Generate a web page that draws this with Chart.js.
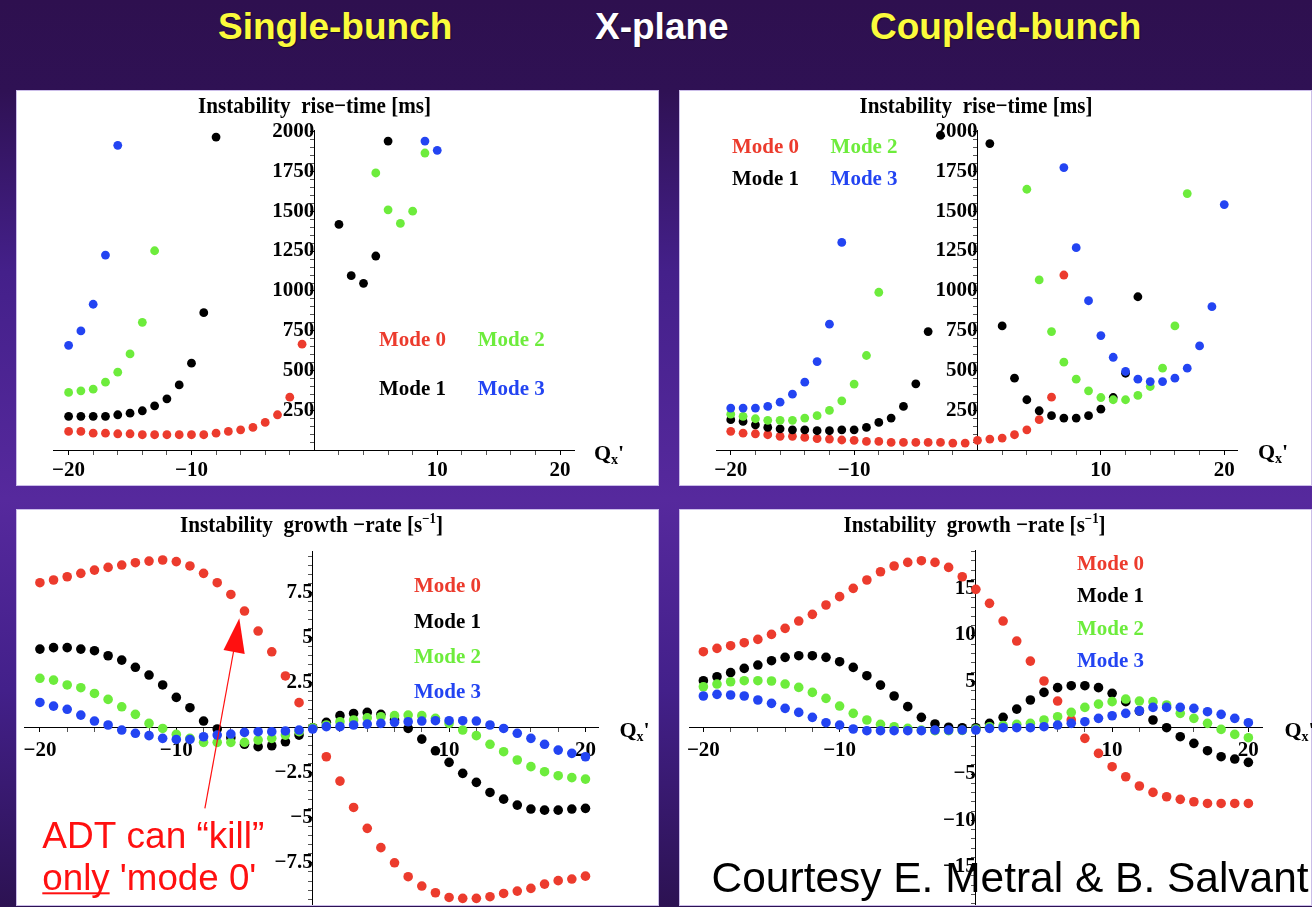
<!DOCTYPE html>
<html>
<head>
<meta charset="utf-8">
<title>X-plane instabilities</title>
<script src="https://cdn.jsdelivr.net/npm/chart.js@4.4.0/dist/chart.umd.min.js"></script>
<style>
  html, body { margin: 0; padding: 0; }
  body {
    width: 1312px; height: 907px; overflow: hidden; position: relative;
    background: linear-gradient(to bottom, #2e104f 0%, #2f1154 10%, #44208a 30%, #56299d 55%, #43208a 76%, #2c1252 100%);
  }
  .head {
    position: absolute; top: 8px; white-space: nowrap;
    font: bold 37px "Liberation Sans", Arial, sans-serif; line-height: 37px;
    text-shadow: 1px 1px 1px rgba(0,0,0,0.45);
  }
  .panel { position: absolute; background: #fff; box-sizing: border-box; border: 1px solid #cbbde9; }
  canvas.plot { position: absolute; }
</style>
</head>
<body>
<div class="head" style="left:218px;color:#fbfb3c">Single-bunch</div>
<div class="head" style="left:595px;color:#ffffff">X-plane</div>
<div class="head" style="left:870px;color:#fbfb3c">Coupled-bunch</div>

<div class="panel" style="left:16px;top:90px;width:643px;height:396px"></div>
<div class="panel" style="left:679px;top:90px;width:633px;height:396px"></div>
<div class="panel" style="left:16px;top:509px;width:643px;height:397px"></div>
<div class="panel" style="left:679px;top:509px;width:633px;height:397px"></div>

<canvas class="plot" id="sbRise" width="643" height="396" style="left:16px;top:90px"></canvas>
<canvas class="plot" id="cbRise" width="633" height="396" style="left:679px;top:90px"></canvas>
<canvas class="plot" id="sbGrow" width="643" height="396" style="left:16px;top:509px"></canvas>
<canvas class="plot" id="cbGrow" width="633" height="396" style="left:679px;top:509px"></canvas>

<script>
// Chromaticity values Q'x shared by every series
const qx = [-20,-19,-18,-17,-16,-15,-14,-13,-12,-11,-10,-9,-8,-7,-6,-5,-4,-3,-2,-1,0,
            1,2,3,4,5,6,7,8,9,10,11,12,13,14,15,16,17,18,19,20];

// Single-bunch instability rise-time [ms] (null = stable / off scale)
const sbRiseMode0 = [121,121,110,110,106,106,100,100,100,100,100,100,110,121,131,146,177,225,335,667,
                     null,null,null,null,null,null,null,null,null,null,null,null,null,null,null,null,null,null,null,null,null];
const sbRiseMode1 = [215,215,215,215,225,235,250,281,325,412,548,864,1964,
                     null,null,null,null,null,null,null,null,null,
                     1417,1096,1048,1219,1939,
                     null,null,null,null,null,null,null,null,null,null,null,null,null,null];
const sbRiseMode2 = [365,375,385,429,492,606,804,1252,
                     null,null,null,null,null,null,null,null,null,null,null,null,null,null,null,null,null,
                     1739,1508,1423,1500,1864,
                     null,null,null,null,null,null,null,null,null,null,null];
const sbRiseMode3 = [660,750,917,1225,1912,
                     null,null,null,null,null,null,null,null,null,null,null,null,null,null,null,null,null,null,null,null,null,null,null,null,
                     1939,1881,
                     null,null,null,null,null,null,null,null,null,null];

// Coupled-bunch instability rise-time [ms]
const cbRiseMode0 = [121,110,106,100,90,90,83,75,73,67,65,58,58,52,52,52,52,52,48,48,65,73,79,100,131,194,335,1100,
                     null,null,null,null,null,null,null,null,null,null,null,null,null];
const cbRiseMode1 = [194,183,162,146,137,131,131,125,125,131,131,146,177,204,277,419,746,1975,
                     null,null,null,
                     1923,781,454,319,250,219,204,204,219,260,333,485,964,
                     null,null,null,null,null,null,null];
const cbRiseMode2 = [229,215,200,190,190,190,204,219,252,312,417,596,992,
                     null,null,null,null,null,null,null,null,null,null,null,
                     1637,1069,746,554,448,375,333,319,319,346,402,517,781,1610,
                     null,null,null];
const cbRiseMode3 = [267,267,267,277,304,354,429,558,792,1304,
                     null,null,null,null,null,null,null,null,null,null,null,null,null,null,null,null,null,
                     1773,1271,939,721,585,496,448,433,433,454,517,656,902,1541];

// Single-bunch instability growth-rate [1/s]
const sbGrowMode0 = [8.04,8.19,8.37,8.56,8.74,8.89,9.02,9.15,9.24,9.30,9.21,8.97,8.56,8.04,7.39,6.47,5.36,4.21,2.87,1.39,0,
                     -1.61,-2.96,-4.42,-5.58,-6.65,-7.49,-8.26,-8.78,-9.15,-9.41,-9.46,-9.46,-9.37,-9.19,-9.06,-8.91,-8.67,-8.48,-8.39,-8.23];
const sbGrowMode1 = [4.36,4.44,4.44,4.36,4.27,3.99,3.75,3.35,2.92,2.37,1.68,1.11,0.37,-0.07,-0.55,-0.92,-1.05,-1.00,-0.78,-0.41,0,
                     0.30,0.67,0.79,0.85,0.74,0.43,-0.04,-0.63,-1.28,-1.92,-2.53,-3.03,-3.59,-3.96,-4.29,-4.51,-4.57,-4.57,-4.51,-4.47];
const sbGrowMode2 = [2.74,2.64,2.37,2.22,1.90,1.57,1.16,0.74,0.24,-0.04,-0.37,-0.59,-0.81,-0.81,-0.81,-0.81,-0.68,-0.59,-0.41,-0.22,0,
                     0.15,0.33,0.43,0.55,0.61,0.67,0.70,0.67,0.52,0.24,-0.13,-0.44,-0.92,-1.33,-1.79,-2.16,-2.44,-2.66,-2.77,-2.85];
const sbGrowMode3 = [1.40,1.20,1.02,0.70,0.37,0.15,-0.13,-0.31,-0.44,-0.59,-0.65,-0.65,-0.50,-0.41,-0.35,-0.26,-0.22,-0.22,-0.18,-0.13,-0.07,
                     0.06,0.06,0.15,0.20,0.24,0.30,0.33,0.37,0.39,0.39,0.39,0.37,0.15,-0.04,-0.31,-0.59,-0.92,-1.24,-1.42,-1.61];

// Coupled-bunch instability growth-rate [1/s]
const cbGrowMode0 = [8.20,8.56,8.85,9.17,9.53,10.07,10.72,11.51,12.23,13.24,14.14,15.04,15.94,16.83,17.45,17.84,18.02,17.84,17.30,16.29,14.93,
                     13.42,11.51,9.35,7.19,5.04,2.88,0.83,-1.15,-2.77,-4.21,-5.29,-6.29,-6.98,-7.45,-7.73,-7.99,-8.17,-8.17,-8.17,-8.17];
const cbGrowMode1 = [5.07,5.50,5.94,6.40,6.76,7.23,7.59,7.77,7.77,7.59,7.12,6.51,5.61,4.60,3.42,2.27,1.12,0.40,0.05,0,0,
                     0.47,1.12,2.01,2.99,3.81,4.32,4.53,4.53,4.32,3.71,2.81,1.80,0.83,0,-0.97,-1.69,-2.48,-3.13,-3.38,-3.74];
const cbGrowMode2 = [4.42,4.71,4.96,5.07,5.07,5.04,4.71,4.35,3.81,3.17,2.34,1.55,0.83,0.36,0.11,-0.07,-0.25,-0.32,-0.32,-0.29,-0.14,
                     0.11,0.22,0.36,0.47,0.83,1.19,1.65,2.19,2.55,2.81,3.09,2.88,2.81,2.45,1.55,1.01,0.47,-0.18,-0.72,-1.08];
const cbGrowMode3 = [3.42,3.60,3.53,3.42,2.99,2.63,2.09,1.65,1.12,0.54,0.29,-0.14,-0.32,-0.32,-0.32,-0.32,-0.32,-0.25,-0.25,-0.25,-0.25,
                     -0.07,0,0,0,0.11,0.29,0.47,0.65,1.01,1.29,1.55,1.83,2.19,2.19,2.19,2.09,1.73,1.44,1.01,0.54];

// Labelled tick values
const qTickLabels = [-20, -10, 10, 20];
const riseTickLabels = [250, 500, 750, 1000, 1250, 1500, 1750, 2000];
const sbGrowTickLabels = [-7.5, -5, -2.5, 2.5, 5, 7.5];
const cbGrowTickLabels = [-15, -10, -5, 5, 10, 15];
const modeNames = ['Mode 0', 'Mode 1', 'Mode 2', 'Mode 3'];

const RED = '#ec3b2d', BLACK = '#000000', GREEN = '#6dec3c', BLUE = '#2344f2';
const modeColors = [RED, BLACK, GREEN, BLUE];
const SERIF = '"Liberation Serif", "Times New Roman", serif';
const SANS = '"Liberation Sans", Arial, sans-serif';

function fmt(v) { return v < 0 ? '\u2212' + String(-v) : String(v); }
function minorSteps(a, b, s) {
  const out = [];
  for (let k = Math.round(a / s); k <= Math.round(b / s); k++) {
    const v = +(k * s).toFixed(6);
    if (v !== 0) out.push(v);
  }
  return out;
}

// Draws a row of text pieces (optionally squeezed to a given width)
function textRun(ctx, parts, x, y, opts) {
  opts = opts || {};
  ctx.save();
  ctx.textBaseline = 'alphabetic';
  ctx.textAlign = 'left';
  let w = 0;
  parts.forEach(p => { ctx.font = p.font; p.w = ctx.measureText(p.t).width; w += p.w; });
  const sx = opts.width ? opts.width / w : 1;
  const left = opts.center ? x - w * sx / 2 : x;
  ctx.translate(left, y);
  ctx.scale(sx, 1);
  let cx = 0;
  parts.forEach(p => {
    ctx.font = p.font;
    ctx.fillStyle = p.color || opts.color || '#000';
    ctx.fillText(p.t, cx, p.dy || 0);
    cx += p.w;
  });
  ctx.restore();
  return { left: left, width: w * sx, partWidths: parts.map(p => p.w * sx) };
}

function riseTitle(ctx, cx) {
  textRun(ctx, [{ t: 'Instability  rise\u2212time [ms]', font: 'bold 23px ' + SERIF }], cx, 23.3, { width: 233, center: true });
}
function growTitle(ctx, cx, w) {
  textRun(ctx, [
    { t: 'Instability  growth \u2212rate [s', font: 'bold 23px ' + SERIF },
    { t: '\u22121', font: 'bold 14px ' + SERIF, dy: -9 },
    { t: ']', font: 'bold 23px ' + SERIF }
  ], cx, 22.5, { width: w, center: true });
}
function qLabel(ctx, x, y) {
  textRun(ctx, [
    { t: 'Q', font: 'bold 22px ' + SERIF },
    { t: 'x', font: 'bold 14px ' + SERIF, dy: 4 },
    { t: "'", font: 'bold 22px ' + SERIF }
  ], x, y);
}
function modeLabel(ctx, i, x, y) {
  textRun(ctx, [{ t: modeNames[i], font: 'bold 21px ' + SERIF }], x, y, { color: modeColors[i], width: 67 });
}

function makePanel(id, cfg) {
  const tickFont = { family: SERIF, size: 21, weight: 'bold', lineHeight: 1.2 };
  const axis = (majors, minors, pad) => {
    const all = Array.from(new Set(minors.concat(majors))).sort((a, b) => a - b);
    return {
      type: 'linear',
      afterBuildTicks: s => { s.ticks = all.map(v => ({ value: v })); },
      afterFit: s => {
        if (s.isHorizontal()) s.height = 0; else s.width = 0;
        s.paddingLeft = s.paddingRight = s.paddingTop = s.paddingBottom = 0;
      },
      ticks: {
        autoSkip: false, maxRotation: 0, minRotation: 0, padding: pad, color: '#000', font: tickFont,
        callback: v => majors.includes(v) ? fmt(v) : ''
      },
      grid: {
        drawOnChartArea: false, drawTicks: true, tickLength: 4, tickWidth: 1,
        tickColor: c => (c.tick && majors.includes(c.tick.value)) ? '#000' : '#555'
      },
      border: { display: true, color: '#000', width: 1 }
    };
  };
  const xAxis = Object.assign(axis(qTickLabels, minorSteps(-20, 20, 2), cfg.xPad),
                              { min: cfg.x[0], max: cfg.x[1], position: { y: 0 } });
  const yAxis = Object.assign(axis(cfg.yMajor, cfg.yMinor, cfg.yPad),
                              { min: cfg.y[0], max: cfg.y[1], position: { x: 0 } });
  return new Chart(document.getElementById(id), {
    type: 'scatter',
    data: {
      datasets: cfg.series.map((vals, i) => ({
        label: modeNames[i],
        data: qx.map((q, k) => vals[k] == null ? null : { x: q, y: vals[k] }).filter(Boolean),
        backgroundColor: modeColors[i],
        borderWidth: 0,
        pointRadius: cfg.r,
        pointHoverRadius: cfg.r,
        order: 3 - i,
        clip: false
      }))
    },
    options: {
      responsive: false, animation: false, devicePixelRatio: 1, events: [],
      layout: { padding: cfg.pad, autoPadding: false },
      plugins: { legend: { display: false }, tooltip: { enabled: false }, title: { display: false } },
      scales: { x: xAxis, y: yAxis }
    },
    plugins: [{ id: 'panelText', afterDraw: c => cfg.decorate(c.ctx, c) }]
  });
}

// Single-bunch rise-time
makePanel('sbRise', {
  pad: { left: 37, right: 85, top: 40.5, bottom: 35.3 },
  x: [-21.27, 21.13], y: [0, 2005], r: 4.4, xPad: 3.7, yPad: 7,
  yMajor: riseTickLabels, yMinor: minorSteps(50, 2000, 50),
  series: [sbRiseMode0, sbRiseMode1, sbRiseMode2, sbRiseMode3],
  decorate: ctx => {
    riseTitle(ctx, 298.5);
    modeLabel(ctx, 0, 363, 256.3);
    modeLabel(ctx, 2, 461.7, 256.3);
    modeLabel(ctx, 1, 363, 304.7);
    modeLabel(ctx, 3, 461.7, 304.7);
    qLabel(ctx, 578, 369.5);
  }
});

// Coupled-bunch rise-time
makePanel('cbRise', {
  pad: { left: 37.8, right: 74.3, top: 40, bottom: 35.3 },
  x: [-21.13, 21.09], y: [0, 2008], r: 4.4, xPad: 3.7, yPad: 7,
  yMajor: riseTickLabels, yMinor: minorSteps(50, 2000, 50),
  series: [cbRiseMode0, cbRiseMode1, cbRiseMode2, cbRiseMode3],
  decorate: ctx => {
    riseTitle(ctx, 297);
    modeLabel(ctx, 0, 53, 63);
    modeLabel(ctx, 2, 151.6, 63);
    modeLabel(ctx, 1, 53, 94.7);
    modeLabel(ctx, 3, 151.6, 94.7);
    qLabel(ctx, 579, 369);
  }
});

// Single-bunch growth-rate
makePanel('sbGrow', {
  pad: { left: 8.5, right: 60.3, top: 42.7, bottom: 0 },
  x: [-21.13, 20.97], y: [-9.83, 9.76], r: 4.8, xPad: 6.7, yPad: 6,
  yMajor: sbGrowTickLabels, yMinor: minorSteps(-9.5, 9.5, 0.5),
  series: [sbGrowMode0, sbGrowMode1, sbGrowMode2, sbGrowMode3],
  decorate: ctx => {
    growTitle(ctx, 295.5, 263);
    modeLabel(ctx, 0, 398, 83.3);
    modeLabel(ctx, 1, 398, 118.7);
    modeLabel(ctx, 2, 398, 154.3);
    modeLabel(ctx, 3, 398, 189.3);
    qLabel(ctx, 603.5, 227.7);
    // ADT note with arrow
    ctx.save();
    ctx.strokeStyle = '#ff1010'; ctx.fillStyle = '#ff1010'; ctx.lineWidth = 1.2;
    ctx.beginPath(); ctx.moveTo(188.9, 299.3); ctx.lineTo(218, 140); ctx.stroke();
    ctx.beginPath(); ctx.moveTo(223.3, 109.3); ctx.lineTo(207.5, 141); ctx.lineTo(228.7, 145); ctx.closePath(); ctx.fill();
    ctx.restore();
    textRun(ctx, [{ t: 'ADT can \u201ckill\u201d', font: '36px ' + SANS }], 26.3, 338.7, { color: '#ff1010', width: 222 });
    const m = textRun(ctx, [{ t: 'only', font: '36px ' + SANS }, { t: " 'mode 0'", font: '36px ' + SANS }],
                      26.3, 381, { color: '#ff1010', width: 214 });
    ctx.save();
    ctx.fillStyle = '#ff1010';
    ctx.fillRect(26.3, 383.3, m.partWidths[0], 2);
    ctx.restore();
  }
});

// Coupled-bunch growth-rate
makePanel('cbGrow', {
  pad: { left: 10.2, right: 50, top: 41.7, bottom: 0 },
  x: [-21.04, 21.0], y: [-19.13, 19.1], r: 4.8, xPad: 6.7, yPad: 6,
  yMajor: cbGrowTickLabels, yMinor: minorSteps(-19, 19, 1),
  series: [cbGrowMode0, cbGrowMode1, cbGrowMode2, cbGrowMode3],
  decorate: ctx => {
    growTitle(ctx, 295.6, 262);
    modeLabel(ctx, 0, 398, 61);
    modeLabel(ctx, 1, 398, 93);
    modeLabel(ctx, 2, 398, 126);
    modeLabel(ctx, 3, 398, 157.7);
    qLabel(ctx, 605.4, 227.7);
    textRun(ctx, [{ t: 'Courtesy E. Metral & B. Salvant', font: '42px ' + SANS }], 32.6, 382.7, { color: '#000', width: 597 });
  }
});
</script>
</body>
</html>
